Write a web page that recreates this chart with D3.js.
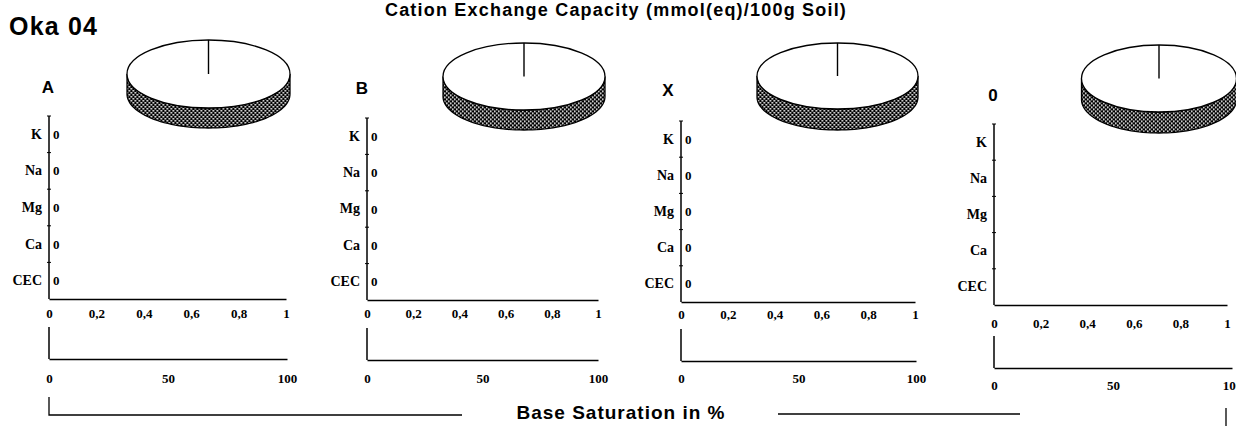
<!DOCTYPE html>
<html><head><meta charset="utf-8">
<script src="https://cdn.jsdelivr.net/npm/d3@7"></script>
<style>
html,body{margin:0;padding:0;background:#fff;}
svg{display:block;}
.sans{font-family:"Liberation Sans",Arial,sans-serif;font-weight:bold;}
.serif{font-family:"Liberation Serif","Times New Roman",serif;font-weight:bold;}
</style></head>
<body>
<svg id="chart" width="1236" height="426"></svg>
<script>
// ---- data ----
const title = "Cation Exchange Capacity (mmol(eq)/100g Soil)";
const siteName = "Oka 04";
const bottomTitle = "Base Saturation in %";
const panelNames = ["A", "B", "X", "0"];
const categories = ["K", "Na", "Mg", "Ca", "CEC"];
const valuesA = [0, 0, 0, 0, 0];
const valuesB = [0, 0, 0, 0, 0];
const valuesX = [0, 0, 0, 0, 0];
const values0 = [null, null, null, null, null];
const panelValues = [valuesA, valuesB, valuesX, values0];
const pieValuesA = [1];
const pieValuesB = [1];
const pieValuesX = [1];
const pieValues0 = [1];
const panelPies = [pieValuesA, pieValuesB, pieValuesX, pieValues0];
const fractionTicks = [0, 0.2, 0.4, 0.6, 0.8, 1];
const saturationTicks = [0, 50, 100];

// ---- layout (positions only) ----
const layout = [
  {ax:49,  top:116, bottom:299, right:286, lab1:313, s0:327, s1:359, right2:287, lab2:378, tx:48,  ty:93,  pcx:208.5, pcy:74,  prx:81.5, pry:34, pd:20},
  {ax:367, top:118, bottom:300, right:598, lab1:313, s0:328, s1:360, right2:598, lab2:378, tx:362, ty:94,  pcx:524,   pcy:76.5,prx:81,   pry:33.5, pd:20},
  {ax:681, top:121, bottom:302, right:915, lab1:314, s0:329, s1:361, right2:916, lab2:378, tx:668, ty:96,  pcx:837.5, pcy:76,  prx:80.5, pry:33, pd:21},
  {ax:994, top:124, bottom:305, right:1227,lab1:323, s0:336, s1:368, right2:1232,lab2:385, tx:993, ty:101, pcx:1159,  pcy:78.5,prx:77.5, pry:33.5, pd:21}
];
const tickFont = 13;
const catFont = 14;

const svg = d3.select("#chart");
const defs = svg.append("defs");
const pat = defs.append("pattern").attr("id","hatch").attr("patternUnits","userSpaceOnUse")
  .attr("width",4).attr("height",4);
pat.append("rect").attr("width",4).attr("height",4).attr("fill","#000");
pat.append("rect").attr("x",0).attr("y",0).attr("width",1.6).attr("height",1.6).attr("fill","#fff");
pat.append("rect").attr("x",2).attr("y",2).attr("width",1.6).attr("height",1.6).attr("fill","#fff");

svg.append("text").attr("class","sans").attr("x",616).attr("y",16)
  .attr("text-anchor","middle").attr("font-size",18).attr("letter-spacing",1.2).text(title);
svg.append("text").attr("class","sans").attr("x",9).attr("y",35)
  .attr("font-size",25).attr("letter-spacing",1.2).text(siteName);

const fmt = d => String(d).replace(".", ",");

panelNames.forEach((name, i) => {
  const L = layout[i];
  const g = svg.append("g");
  g.append("text").attr("class","sans").attr("x",L.tx).attr("y",L.ty)
    .attr("text-anchor","middle").attr("font-size",17).text(name);

  // ---- pie (3D look) ----
  const pie = d3.pie().sort(null)(panelPies[i]);
  const pg = g.append("g").attr("transform",`translate(${L.pcx},${L.pcy})`);
  const n = 60;
  const front = d3.range(n+1).map(k => Math.PI/2 + Math.PI*k/n);
  const pt = (a, dy) => [L.prx*Math.sin(a), -L.pry*Math.cos(a) + dy];
  const sidePts = front.map(a => pt(a,0)).concat(front.slice().reverse().map(a => pt(a,L.pd)));
  pg.append("path").attr("d", d3.line()(sidePts) + "Z")
    .attr("fill","url(#hatch)").attr("stroke","#000").attr("stroke-width",1.3);
  const arc = d3.arc().innerRadius(0).outerRadius(1);
  pg.selectAll("path.slice").data(pie).join("path").attr("class","slice")
    .attr("d", arc).attr("transform",`scale(${L.prx},${L.pry})`)
    .attr("fill","#fff").attr("stroke","none");
  pg.append("ellipse").attr("rx",L.prx).attr("ry",L.pry).attr("fill","none")
    .attr("stroke","#000").attr("stroke-width",1.3);
  pg.selectAll("line.rad").data(pie).join("line").attr("class","rad")
    .attr("x1",0).attr("y1",0)
    .attr("x2", d => pt(d.startAngle,0)[0]).attr("y2", d => pt(d.startAngle,0)[1])
    .attr("stroke","#000").attr("stroke-width",1.4);

  // ---- category axis ----
  const y = d3.scaleBand().domain(categories).range([L.top, L.bottom]);
  const x = d3.scaleLinear().domain([0,1]).range([L.ax, L.right]);
  const yAx = g.append("g").attr("transform",`translate(${L.ax},0)`)
    .call(d3.axisLeft(y).tickSize(0).tickPadding(7));
  yAx.select(".domain").remove();
  yAx.selectAll("text").attr("class","serif").attr("font-size",catFont).attr("fill","#000");
  g.append("line").attr("x1",L.ax).attr("x2",L.ax).attr("y1",L.top).attr("y2",L.bottom)
    .attr("stroke","#000").attr("stroke-width",1.5);
  const bounds = categories.map(c => y(c));
  g.selectAll("line.bt").data(bounds).join("line").attr("class","bt")
    .attr("x1",L.ax-2).attr("x2",L.ax+2).attr("y1",d=>d).attr("y2",d=>d)
    .attr("stroke","#000").attr("stroke-width",1);
  const vals = panelValues[i].map((v,k)=>({c:categories[k], v}));
  g.selectAll("text.val").data(vals.filter(d=>d.v!==null)).join("text").attr("class","serif val")
    .attr("x", d => x(d.v) + 4).attr("y", d => y(d.c) + y.bandwidth()/2)
    .attr("dy","0.35em").attr("font-size",tickFont).text(d => d.v);

  // fraction axis
  const xAx = g.append("g").attr("transform",`translate(0,${L.bottom})`)
    .call(d3.axisBottom(x).tickValues(fractionTicks).tickSize(0).tickPadding(0).tickFormat(fmt));
  xAx.select(".domain").attr("stroke-width",1.5);
  xAx.selectAll("text").attr("class","serif").attr("font-size",tickFont).attr("fill","#000")
    .attr("y", L.lab1 - L.bottom).attr("dy","0.35em");

  // base saturation axis
  const s = d3.scaleLinear().domain([0,100]).range([L.ax, L.right2]);
  g.append("line").attr("x1",L.ax).attr("x2",L.ax).attr("y1",L.s0).attr("y2",L.s1)
    .attr("stroke","#000").attr("stroke-width",1.5);
  const sAx = g.append("g").attr("transform",`translate(0,${L.s1})`)
    .call(d3.axisBottom(s).tickValues(saturationTicks).tickSize(0).tickPadding(0));
  sAx.select(".domain").attr("stroke-width",1.5);
  sAx.selectAll("text").attr("class","serif").attr("font-size",tickFont).attr("fill","#000")
    .attr("y", L.lab2 - L.s1).attr("dy","0.35em");
});

// bottom bracket
svg.append("path").attr("d","M49,397V415H462").attr("fill","none").attr("stroke","#000").attr("stroke-width",1.3);
svg.append("line").attr("x1",778).attr("x2",1020).attr("y1",414).attr("y2",414).attr("stroke","#000").attr("stroke-width",1.3);
svg.append("line").attr("x1",1226).attr("x2",1226).attr("y1",408).attr("y2",426).attr("stroke","#000").attr("stroke-width",1.3);
svg.append("text").attr("class","sans").attr("x",621).attr("y",419)
  .attr("text-anchor","middle").attr("font-size",19).attr("letter-spacing",1).text(bottomTitle);
</script>
</body></html>
